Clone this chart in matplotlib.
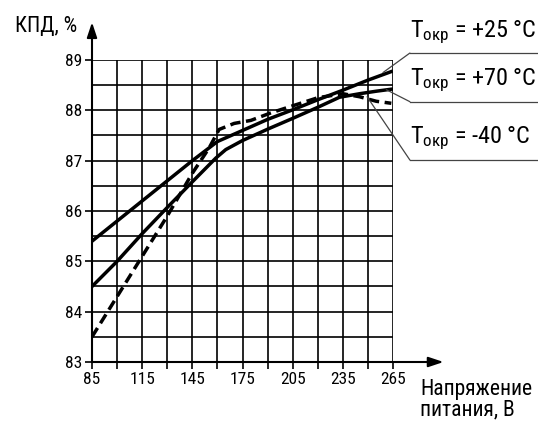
import matplotlib.pyplot as plt
import matplotlib.font_manager as fm

names = {f.name for f in fm.fontManager.ttflist}
if 'Roboto Condensed' in names:
    plt.rcParams['font.family'] = ['Roboto Condensed', 'DejaVu Sans']
    fs = 1.0
else:
    plt.rcParams['font.family'] = ['Liberation Sans', 'DejaVu Sans']
    fs = 0.75
plt.rcParams['mathtext.default'] = 'regular'

# +25 °C
u25 = [85, 145, 160, 175, 190, 205, 220, 235, 250, 264]
k25 = [85.4, 87.0, 87.38, 87.6, 87.82, 88.01, 88.21, 88.4, 88.6, 88.77]
# +70 °C
u70 = [85, 100, 115, 130, 145, 159, 165, 175, 191, 205, 220, 233, 245, 255, 264]
k70 = [84.5, 85.0, 85.55, 86.07, 86.58, 87.05, 87.22, 87.4, 87.64, 87.84, 88.06, 88.26, 88.33, 88.38, 88.42]
# -40 °C
u40 = [85, 100, 115, 130, 145, 155, 161, 170, 180, 192, 205, 220, 235, 245, 255, 264]
k40 = [83.5, 84.3, 85.1, 85.9, 86.75, 87.25, 87.62, 87.74, 87.8, 87.95, 88.09, 88.25, 88.33, 88.27, 88.18, 88.14]

labels = ['T$_{окр}$ = +25 °C', 'T$_{окр}$ = +70 °C', 'T$_{окр}$ = -40 °C']
label_pts = [(259, 88.75), (261, 88.41), (249.5, 88.27)]
label_y = [1.023, 0.862, 0.669]

xticks = list(range(85, 266, 15))
xlabels = [str(v) if (v - 85) % 30 == 0 else '' for v in xticks]
yticks = list(range(83, 90))

fig = plt.figure(figsize=(5.38, 4.23), dpi=100)
ax = fig.add_axes([92 / 538, 61 / 423, 301 / 538, 302 / 423])
ax.set_xlim(85, 265)
ax.set_ylim(83, 89)

for v in xticks:
    ax.axvline(v, color='black', lw=1.2, zorder=1)
for i in range(13):
    ax.axhline(83 + 0.5 * i, color='black', lw=1.2, zorder=1)

ax.plot(u25, k25, color='black', lw=2.5, zorder=3)
ax.plot(u70, k70, color='black', lw=2.5, zorder=3)
ax.plot(u40, k40, color='black', lw=2.5, ls=(0, (3, 1.6)), zorder=3)

for s in ax.spines.values():
    s.set_visible(False)
ax.set_xticks(xticks, xlabels)
ax.set_yticks(yticks, [str(v) for v in yticks])
ax.tick_params(length=5, width=1.2, labelsize=12.5 * fs, pad=2, color='black')

arrow = dict(arrowstyle='-|>,head_length=0.9,head_width=0.3', color='black', lw=1.5,
             shrinkA=0, shrinkB=0)
ax.annotate('', xy=(1.168, 0), xytext=(0, 0), xycoords='axes fraction', arrowprops=arrow)
ax.annotate('', xy=(0, 1.125), xytext=(0, 0), xycoords='axes fraction', arrowprops=arrow)

ax.text(-0.255, 1.11, 'КПД, %', transform=ax.transAxes, fontsize=15.5 * fs, va='center', ha='left')
ax.text(1.09, -0.055, 'Напряжение\nпитания, В', transform=ax.transAxes, fontsize=15.5 * fs,
        va='top', ha='left', linespacing=1.0)

for lab, pt, yy in zip(labels, label_pts, label_y):
    ax.plot([1.056, 1.49], [yy, yy], transform=ax.transAxes, color='#444444', lw=0.9, clip_on=False)
    ax.annotate('', xy=pt, xytext=(1.056, yy), textcoords='axes fraction',
                arrowprops=dict(arrowstyle='-', color='#444444', lw=0.9, shrinkA=0, shrinkB=0))
    ax.text(1.058, yy + 0.025, lab, transform=ax.transAxes, fontsize=17.5 * fs, ha='left', va='bottom')

fig.savefig('out.png', dpi=100)
